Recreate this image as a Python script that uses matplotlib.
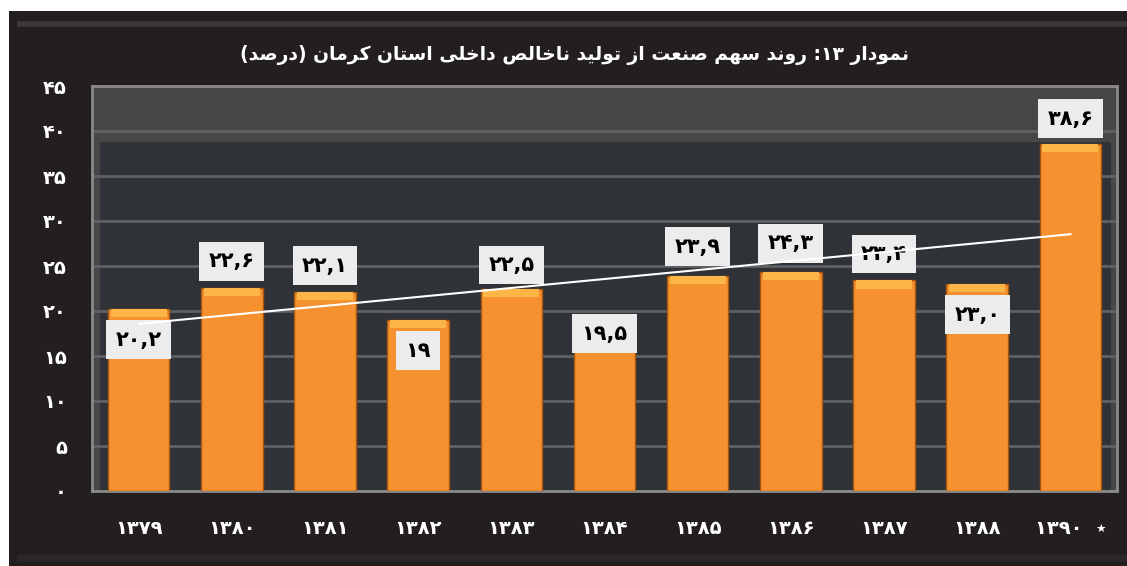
import re
import numpy as np
import matplotlib
matplotlib.use("Agg")
import matplotlib.pyplot as plt
from matplotlib.patches import Rectangle
from matplotlib.ticker import FuncFormatter

years = [1379, 1380, 1381, 1382, 1383, 1384, 1385, 1386, 1387, 1388, 1390]
share = [20.2, 22.6, 22.1, 19.0, 22.5, 19.5, 23.9, 24.3, 23.4, 23.0, 38.6]
title_fa = "نمودار ۱۳: روند سهم صنعت از تولید ناخالص داخلی استان کرمان (درصد)"
yticks = [0, 5, 10, 15, 20, 25, 30, 35, 40, 45]

# label box offset from the bar top, in points (negative = inside the bar)
label_offset = [-22, 19, 19, -22, 17, -13, 21, 21, 19, -22, 18]

FA_DIGITS = str.maketrans("0123456789.", "۰۱۲۳۴۵۶۷۸۹,")

# arabic presentation forms: isolated, final, initial, medial
FORMS = {
    "ا": ("\uFE8D", "\uFE8E", None, None),
    "ب": ("\uFE8F", "\uFE90", "\uFE91", "\uFE92"),
    "ت": ("\uFE95", "\uFE96", "\uFE97", "\uFE98"),
    "خ": ("\uFEA5", "\uFEA6", "\uFEA7", "\uFEA8"),
    "د": ("\uFEA9", "\uFEAA", None, None),
    "ر": ("\uFEAD", "\uFEAE", None, None),
    "ز": ("\uFEAF", "\uFEB0", None, None),
    "س": ("\uFEB1", "\uFEB2", "\uFEB3", "\uFEB4"),
    "ص": ("\uFEB9", "\uFEBA", "\uFEBB", "\uFEBC"),
    "ع": ("\uFEC9", "\uFECA", "\uFECB", "\uFECC"),
    "ل": ("\uFEDD", "\uFEDE", "\uFEDF", "\uFEE0"),
    "م": ("\uFEE1", "\uFEE2", "\uFEE3", "\uFEE4"),
    "ن": ("\uFEE5", "\uFEE6", "\uFEE7", "\uFEE8"),
    "ه": ("\uFEE9", "\uFEEA", "\uFEEB", "\uFEEC"),
    "و": ("\uFEED", "\uFEEE", None, None),
    "\u06CC": ("\uFBFC", "\uFBFD", "\uFBFE", "\uFBFF"),
    "\u06A9": ("\uFB8E", "\uFB8F", "\uFB90", "\uFB91"),
}
RIGHT_ONLY = set("ادذرزژو")


def shape(text):
    text = text.replace("\u064A", "\u06CC").replace("\u0643", "\u06A9")
    out = []
    for i, ch in enumerate(text):
        if ch not in FORMS:
            out.append(ch)
            continue
        prev = text[i - 1] if i > 0 else None
        nxt = text[i + 1] if i + 1 < len(text) else None
        join_prev = prev in FORMS and prev not in RIGHT_ONLY
        join_next = ch not in RIGHT_ONLY and nxt in FORMS
        iso, fin, ini, med = FORMS[ch]
        if join_prev and join_next:
            out.append(med)
        elif join_prev:
            out.append(fin)
        elif join_next:
            out.append(ini)
        else:
            out.append(iso)
    return "".join(out)


def rtl(text):
    runs = re.findall(r"[0-9۰-۹]+|[^0-9۰-۹]", shape(text))
    mirror = {"(": ")", ")": "("}
    return "".join(mirror.get(r, r) for r in runs[::-1])


def fa(num):
    return str(num).translate(FA_DIGITS)


plt.rcParams["font.family"] = ["DejaVu Sans"]
plt.rcParams["font.weight"] = "bold"

fig = plt.figure(figsize=(11.27, 5.66), dpi=100)
fig.patch.set_facecolor("white")

# dark panel behind everything
fig.patches.append(Rectangle((9 / 1127, 0), 1, 555 / 566, transform=fig.transFigure,
                             facecolor="#231f20", edgecolor="none", zorder=0))
fig.lines.append(plt.Line2D([20 / 1127, 1], [542 / 566, 542 / 566], transform=fig.transFigure,
                            color="#3a3839", lw=4, zorder=1))
fig.lines.append(plt.Line2D([20 / 1127, 1], [8 / 566, 8 / 566], transform=fig.transFigure,
                            color="#2a2728", lw=5, zorder=1))

ax = fig.add_axes([92 / 1127, 1 - 491 / 566, 1025 / 1127, 405 / 566])
ax.set_zorder(5)
ax.set_facecolor("#474747")
ax.add_patch(Rectangle((0.008, 0), 0.986, 0.862, transform=ax.transAxes,
                       facecolor="#2f3236", edgecolor="none", zorder=0))

x = np.arange(len(years))
vals = np.array(share)

ax.bar(x, vals, width=0.66, color="#f5912f", edgecolor="#a8550f", linewidth=1, zorder=3)
ax.bar(x, np.full(len(x), 0.9), bottom=vals - 0.9, width=0.6, color="#fcb648",
       edgecolor="none", zorder=4)

# linear trend line
k, b = np.polyfit(x, vals, 1)
ax.plot(x, k * x + b, color="white", lw=1.5, zorder=6)

for xi, v, off in zip(x, vals, label_offset):
    txt = fa("%.1f" % v) if v != int(v) or v == 23.0 else fa(int(v))
    ax.annotate(txt, (xi, v), xytext=(0, off), textcoords="offset points",
                ha="center", va="center", fontsize=15, fontweight="bold", color="black",
                bbox=dict(boxstyle="square,pad=0.45", facecolor="#ececec", edgecolor="none"),
                zorder=5)

ax.set_xlim(-0.5, len(x) - 0.5)
ax.set_ylim(0, 45)
ax.set_yticks(yticks)
ax.yaxis.set_major_formatter(FuncFormatter(lambda v, p: fa(int(v))))
ax.set_xticks(x)
xlabels = [fa(y) for y in years]
xlabels[-1] = xlabels[-1] + "  \u066D"
ax.set_xticklabels(xlabels)
ax.tick_params(axis="both", length=0, colors="white", labelsize=14)
ax.tick_params(axis="x", pad=20)
ax.tick_params(axis="y", pad=18)

ax.grid(axis="y", color="#606163", lw=2, zorder=1)
ax.set_axisbelow(True)
for s in ax.spines.values():
    s.set_color("#8a8a8a")
    s.set_linewidth(2)

fig.text(575 / 1127, 1 - 55 / 566, rtl(title_fa), ha="center", va="center",
         color="white", fontsize=13.5, fontweight="bold")

fig.savefig("out.png", dpi=100, facecolor=fig.get_facecolor())
